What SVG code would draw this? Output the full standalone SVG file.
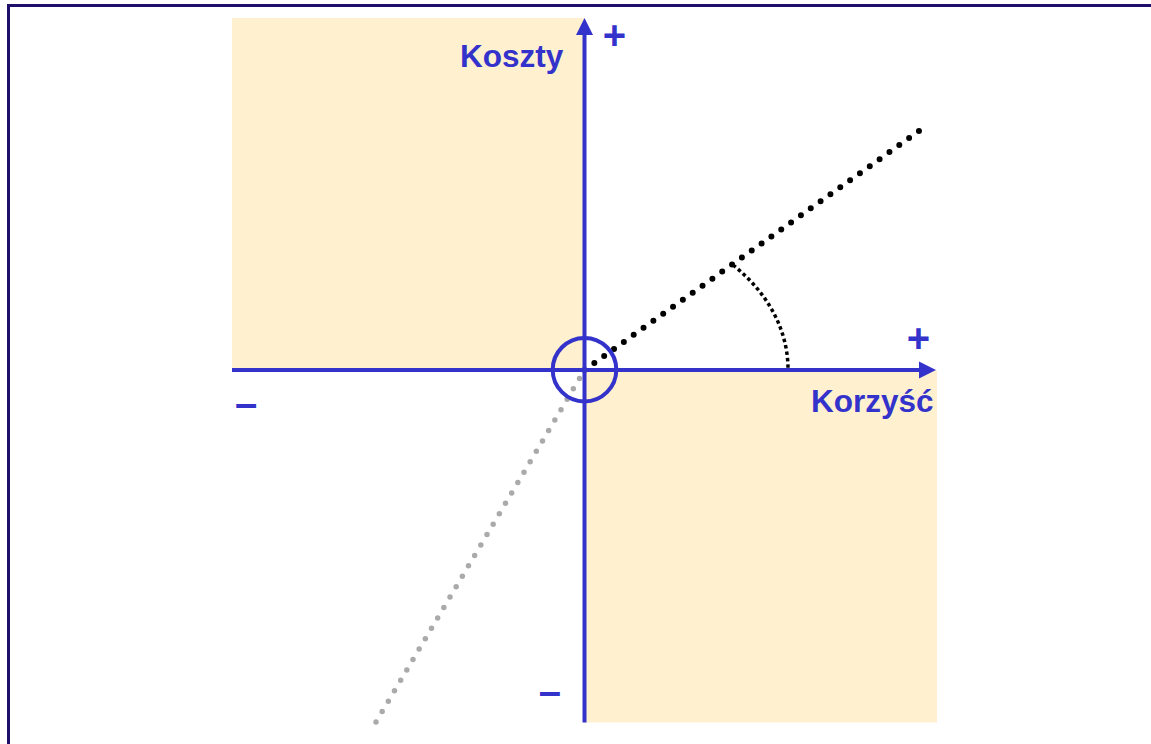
<svg xmlns="http://www.w3.org/2000/svg" width="1151" height="744" viewBox="0 0 1151 744">
<style>
.fill{fill:#fff0cf}
.axis{stroke:#3333cc;stroke-width:4;fill:none}
.head{fill:#3333cc}
.lbl{font-family:"Liberation Sans",Arial,sans-serif;font-weight:bold;fill:#3333cc}
.t{font-size:31.5px}
.s{font-size:40px}
</style>
<rect width="1151" height="744" fill="#ffffff"/>
<g id="frame" stroke="#1f0f6b" stroke-width="3" fill="none">
<line x1="7" y1="5.5" x2="1151" y2="5.5"/>
<line x1="8.5" y1="4" x2="8.5" y2="744"/>
</g>
<g id="quadrants">
<rect class="fill" x="232" y="18" width="352.5" height="352"/>
<rect class="fill" x="584.5" y="370" width="352.5" height="352.5"/>
</g>
<g id="connectors">
<path d="M376,722 L584.5,370" stroke="#aaaaaa" stroke-width="5.5" stroke-linecap="round" stroke-dasharray="0 12.1" fill="none"/>
<path d="M584.5,370 L919,131" stroke="#000" stroke-width="6" stroke-linecap="round" stroke-dasharray="0 12.09" fill="none"/>
<path d="M733,265 A203,152 0 0 1 788,370" stroke="#000" stroke-width="3.5" stroke-dasharray="3.5 3" fill="none"/>
</g>
<g id="axis-y">
<line class="axis" x1="584.5" y1="722.5" x2="584.5" y2="33"/>
<polygon class="head" points="584.5,18 576,35 593,35"/>
</g>
<g id="axis-x">
<line class="axis" x1="232" y1="370" x2="921" y2="370"/>
<polygon class="head" points="936,370 919,361.5 919,378.5"/>
</g>
<g id="origin">
<circle cx="584.5" cy="369.7" r="31.8" stroke="#3333cc" stroke-width="4" fill="none"/>
</g>
<g id="labels">
<text class="lbl t" x="460" y="67">Koszty</text>
<text class="lbl t" x="811" y="412">Korzyść</text>
<text class="lbl s" x="614.5" y="49.3" text-anchor="middle">+</text>
<text class="lbl s" x="918.5" y="352.3" text-anchor="middle">+</text>
<text class="lbl s" x="246" y="417" text-anchor="middle">–</text>
<text class="lbl s" x="549.8" y="705" text-anchor="middle">–</text>
</g>
</svg>
